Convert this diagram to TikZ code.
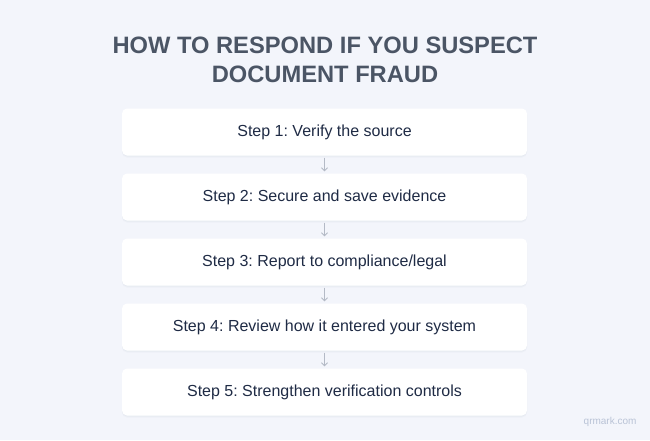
\documentclass[tikz,border=0pt]{standalone}
\usepackage{fontspec}
\setmainfont{Liberation Sans}
\frenchspacing
\usetikzlibrary{arrows.meta}
\definecolor{bg}{HTML}{F3F5FB}
\definecolor{titlec}{HTML}{4B5565}
\definecolor{stepc}{HTML}{1F2B45}
\definecolor{arrc}{HTML}{B4BAC6}
\definecolor{wmc}{HTML}{B9C3D6}
\definecolor{shc}{HTML}{8A93A8}
\tikzset{
  stepbox/.style={draw=none, fill=white, rounded corners=5pt, minimum width=405pt, minimum height=47pt,
    font=\fontsize{16pt}{19pt}\selectfont, text=stepc,
    preaction={fill=shc, fill opacity=0.05, transform canvas={yshift=-2pt}},
    preaction={fill=shc, fill opacity=0.05, transform canvas={yshift=-1pt}}},
  flow/.style={draw=arrc, line width=0.8pt, -{Straight Barb[length=3pt,width=6pt]}},
  titletext/.style={font=\bfseries\fontsize{23.7pt}{28pt}\selectfont, text=titlec}
}
\begin{document}
\begin{tikzpicture}[x=1pt,y=-1pt]
\fill[bg] (0,0) rectangle (650,440);
\useasboundingbox (0,0) rectangle (650,440);
\node[titletext] (t1) at (325,45) {HOW TO RESPOND IF YOU SUSPECT};
\node[titletext] (t2) at (325,74) {DOCUMENT FRAUD};
\node[stepbox] (s1) at (324.5,132) {Step 1: Verify the source};
\node[stepbox] (s2) at (324.5,197) {Step 2: Secure and save evidence};
\node[stepbox] (s3) at (324.5,262) {Step 3: Report to compliance/legal};
\node[stepbox] (s4) at (324.5,327) {Step 4: Review how it entered your system};
\node[stepbox] (s5) at (324.5,392) {Step 5: Strengthen verification controls};
\foreach \a/\b in {s1/s2,s2/s3,s3/s4,s4/s5}
  \draw[flow] ([yshift=-2pt]\a.south) -- ([yshift=2pt]\b.north);
\node[font=\fontsize{10pt}{12pt}\selectfont, text=wmc, anchor=east] (wm) at (640,422) {qrmark.com};
\end{tikzpicture}
\end{document}
